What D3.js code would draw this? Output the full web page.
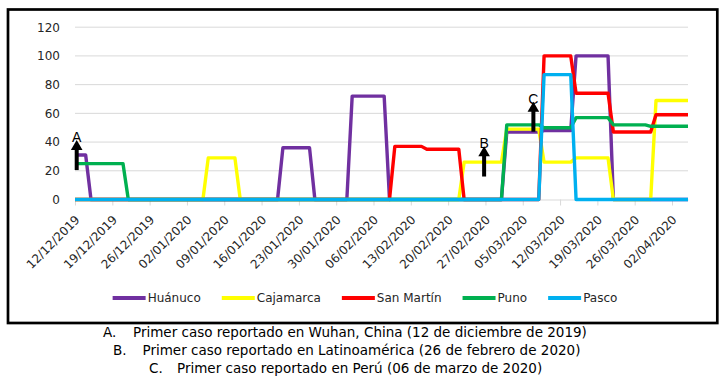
<!DOCTYPE html>
<html><head><meta charset="utf-8">
<script src="https://cdn.jsdelivr.net/npm/d3@7/dist/d3.min.js"></script>
<style>body{margin:0;background:#fff} svg{display:block}</style>
</head><body>
<svg id="c" width="726" height="392"></svg>
<script>
// ---------------- DATA ----------------
const tickLabels = ["12/12/2019","19/12/2019","26/12/2019","02/01/2020","09/01/2020","16/01/2020","23/01/2020","30/01/2020","06/02/2020","13/02/2020","20/02/2020","27/02/2020","05/03/2020","12/03/2020","19/03/2020","26/03/2020","02/04/2020"];
const yTicks = [0,20,40,60,80,100,120];
const dateRange = ["12/12/2019","05/04/2020"];
const seriesNames = ["Huánuco","Cajamarca","San Martín","Puno","Pasco"];
const seriesColors = ["#7030A0","#FFFF00","#FF0000","#00B050","#00B0F0"];

// [date, value] at every day where the line changes direction
const huanuco = [["12/12/2019",31],["14/12/2019",31],["15/12/2019",0],["19/01/2020",0],["20/01/2020",36],["25/01/2020",36],["26/01/2020",0],["01/02/2020",0],["02/02/2020",72],["08/02/2020",72],["09/02/2020",0],["01/03/2020",0],["02/03/2020",47],["08/03/2020",47],["09/03/2020",48],["14/03/2020",48],["15/03/2020",100],["21/03/2020",100],["22/03/2020",0],["05/04/2020",0]];
const cajamarca = [["12/12/2019",0],["05/01/2020",0],["06/01/2020",29],["11/01/2020",29],["12/01/2020",0],["22/02/2020",0],["23/02/2020",26],["01/03/2020",26],["02/03/2020",49],["08/03/2020",49],["09/03/2020",26],["14/03/2020",26],["15/03/2020",29],["21/03/2020",29],["22/03/2020",0],["29/03/2020",0],["30/03/2020",69],["05/04/2020",69]];
const sanMartin = [["12/12/2019",0],["09/02/2020",0],["10/02/2020",37],["15/02/2020",37],["16/02/2020",35],["22/02/2020",35],["23/02/2020",0],["08/03/2020",0],["09/03/2020",100],["14/03/2020",100],["15/03/2020",74],["21/03/2020",74],["22/03/2020",47],["29/03/2020",47],["30/03/2020",59],["05/04/2020",59]];
const puno = [["12/12/2019",25],["21/12/2019",25],["22/12/2019",0],["01/03/2020",0],["02/03/2020",52],["08/03/2020",52],["09/03/2020",50],["14/03/2020",50],["15/03/2020",57],["21/03/2020",57],["22/03/2020",52],["28/03/2020",52],["29/03/2020",51],["05/04/2020",51]];
const pasco = [["12/12/2019",0],["08/03/2020",0],["09/03/2020",87],["14/03/2020",87],["15/03/2020",0],["05/04/2020",0]];

const annLabels = ["A","B","C"];
const annDates = ["12/12/2019","26/02/2020","06/03/2020"];
const annFrom = [20.5,16,47.2];
const annTo = [41.5,37,68];

const noteMarks = ["A.","B.","C."];
const notes = ["Primer caso reportado en Wuhan, China (12 de diciembre de 2019)",
               "Primer caso reportado en Latinoamérica (26 de febrero de 2020)",
               "Primer caso reportado en Perú (06 de marzo de 2020)"];

// ---------------- DRAW ----------------
const FONT = "'DejaVu Sans', Verdana, sans-serif";
const TXT = "#262626";
const parse = d3.timeParse("%d/%m/%Y");
const svg = d3.select("#c");

const x = d3.scaleTime().domain(dateRange.map(parse)).range([75, 688]);
const y = d3.scaleLinear().domain([0, 120]).range([199.5, 27.2]);

// frame
svg.append("rect").attr("x",8).attr("y",9.5).attr("width",709.3).attr("height",313.5)
  .attr("fill","none").attr("stroke","#000").attr("stroke-width",2.7);

// gridlines
svg.append("g").selectAll("line").data(yTicks.filter(v=>v>0)).join("line")
  .attr("x1",x.range()[0]).attr("x2",x.range()[1])
  .attr("y1",d=>y(d)).attr("y2",d=>y(d))
  .attr("stroke","#d9d9d9").attr("stroke-width",1);

// y axis
const ya = svg.append("g").attr("transform","translate(75,0)")
  .call(d3.axisLeft(y).tickValues(yTicks).tickSize(0).tickPadding(15));
ya.select(".domain").remove();
ya.selectAll("text").attr("font-family",FONT).attr("font-size",12).attr("fill",TXT);

// x axis
const xa = svg.append("g").attr("transform",`translate(0,${y(0)})`)
  .call(d3.axisBottom(x).tickValues(tickLabels.map(parse)).tickSize(6).tickSizeOuter(0)
    .tickFormat(d3.timeFormat("%d/%m/%Y")));
xa.select(".domain").attr("stroke","#d9d9d9");
xa.selectAll(".tick line").attr("stroke","#d9d9d9");
xa.selectAll("text").attr("font-family",FONT).attr("font-size",12).attr("fill",TXT)
  .attr("text-anchor","end").attr("dy","0.35em").attr("y",0)
  .attr("transform","translate(2,18) rotate(-45)");

// lines
const line = d3.line().x(d=>x(parse(d[0]))).y(d=>y(d[1]));
const allSeries = [huanuco, cajamarca, sanMartin, puno, pasco];
svg.append("g").selectAll("path").data(allSeries).join("path")
  .attr("d",line).attr("fill","none")
  .attr("stroke",(d,i)=>seriesColors[i]).attr("stroke-width",3.4)
  .attr("stroke-linejoin","round").attr("stroke-linecap","butt");

// annotations (arrows)
const nudge = [1.7, 4, 5.3];
const ag = svg.append("g");
annLabels.forEach((lab,i)=>{
  const ax = x(parse(annDates[i])) + nudge[i];
  const yb = y(annFrom[i]), yt = y(annTo[i]);
  ag.append("line").attr("x1",ax).attr("x2",ax).attr("y1",yb).attr("y2",yt+8)
    .attr("stroke","#000").attr("stroke-width",4);
  ag.append("path").attr("d",`M${ax},${yt} L${ax-5.8},${yt+10} L${ax+5.8},${yt+10} Z`).attr("fill","#000");
  ag.append("text").attr("x",ax).attr("y",yt+1.8).attr("text-anchor","middle")
    .attr("font-family","'Liberation Sans', Arial, sans-serif").attr("font-size",14).attr("fill","#000").text(lab);
});

// legend
const lg = svg.append("g");
const items = seriesNames.map((n,i)=>{
  const g = lg.append("g");
  g.append("line").attr("x1",0).attr("x2",33).attr("y1",0).attr("y2",0)
    .attr("stroke",seriesColors[i]).attr("stroke-width",4);
  const t = g.append("text").attr("x",35).attr("y",0).attr("dy","0.35em")
    .attr("font-family",FONT).attr("font-size",12).attr("fill",TXT).text(n);
  return {g, w: 35 + t.node().getComputedTextLength()};
});
const gap = 21;
const total = d3.sum(items,d=>d.w) + gap*(items.length-1);
let lx = 365 - total/2;
items.forEach(it=>{ it.g.attr("transform",`translate(${lx},298)`); lx += it.w + gap; });

// footnotes
const markX = [103,113,149], textX = [133,142.5,177], baseY = [337,354.5,372.5];
notes.forEach((n,i)=>{
  svg.append("text").attr("x",markX[i]).attr("y",baseY[i]).attr("font-family",FONT)
    .attr("font-size",13.5).attr("fill","#000").text(noteMarks[i]);
  svg.append("text").attr("x",textX[i]).attr("y",baseY[i]).attr("font-family",FONT)
    .attr("font-size",13.5).attr("fill","#000").text(n);
});
</script>
</body></html>
